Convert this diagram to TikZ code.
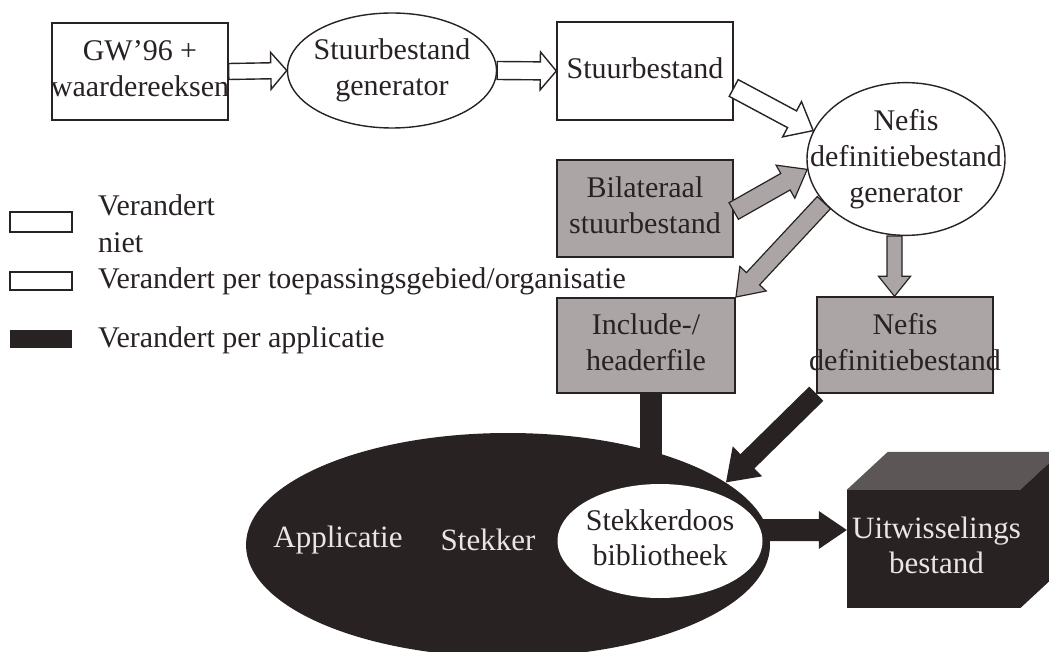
\documentclass[tikz,border=0pt]{standalone}
\usepackage{fontspec}
\setmainfont{Liberation Serif}
\usetikzlibrary{shapes.geometric,calc}
\definecolor{ink}{RGB}{40,34,35}
\definecolor{midgray}{RGB}{172,165,165}
\definecolor{topgray}{RGB}{92,86,87}
\definecolor{paleink}{RGB}{234,230,230}
\newcommand\tx[1]{\makebox[0pt]{\begin{tabular}{@{}c@{}}#1\end{tabular}}}
\newcommand\blockarrow[6]{%
  \path[#1] let \p1=($(#3)-(#2)$), \n1={atan2(\y1,\x1)}, \n2={veclen(\x1,\y1)} in
    [shift={(#2)}, rotate=\n1]
    (0pt,-#4pt) -- ({(\n2-#6)*1pt},-#4pt) -- ({(\n2-#6)*1pt},-#5pt) -- ({\n2*1pt},0pt)
    -- ({(\n2-#6)*1pt},#5pt) -- ({(\n2-#6)*1pt},#4pt) -- (0pt,#4pt) -- cycle;}
\tikzset{
  lbl/.style={font=\fontsize{30}{36}\selectfont, text=ink},
  box/.style={rectangle, draw=ink, line width=1.4pt, fill=white, inner sep=0pt, lbl},
  graybox/.style={box, fill=midgray},
  oval/.style={ellipse, draw=ink, line width=1.4pt, fill=white, inner sep=0pt, lbl},
  legtext/.style={font=\fontsize{30}{33}\selectfont, text=ink, inner sep=0pt, align=left},
  hollow/.style={draw=ink, fill=white, line width=1.4pt, line join=miter},
  grayarr/.style={draw=ink, fill=midgray, line width=1.2pt},
  blackarr/.style={fill=ink},
  paletext/.style={font=\fontsize{31}{35}\selectfont, text=paleink, inner sep=0pt}
}
\begin{document}
\begin{tikzpicture}[x=1pt, y=-1pt]
\useasboundingbox (0,0) rectangle (1049,652);
\clip (0,0) rectangle (1049,652);
\fill[white] (0,0) rectangle (1049,652);

% top row
\node[box, minimum width=176pt, minimum height=97pt] (gw) at (140,71.5) {\tx{GW’96 +\\waardereeksen}};
\node[oval, minimum width=209pt, minimum height=115pt] (sgen) at (392,70.5) {\tx{Stuurbestand\\generator}};
\node[box, minimum width=176pt, minimum height=98pt] (sb) at (645,71) {\tx{Stuurbestand}};
\node[oval, minimum width=198pt, minimum height=118pt] (ngen) at (906,159) {\tx{Nefis\\definitiebestand\\generator}};

% gray boxes
\node[graybox, minimum width=176pt, minimum height=97pt] (bil) at (645,208.5) {\tx{Bilateraal\\stuurbestand}};
\node[graybox, minimum width=178pt, minimum height=95pt] (inc) at (646,345.5) {\tx{Include-/\\headerfile}};
\node[graybox, minimum width=176pt, minimum height=96pt] (nd) at (905,345) {\tx{Nefis\\definitiebestand}};

% legend
\node[box, minimum width=62pt, minimum height=20pt] (leg1) at (41,222) {};
\node[box, minimum width=62pt, minimum height=18pt] (leg2) at (41,281) {};
\node[rectangle, fill=ink, inner sep=0pt, minimum width=62pt, minimum height=18pt] (leg3) at (41,339) {};
\node[legtext, anchor=west] (l1) at (98,224) {Verandert\\[4pt]niet};
\node[legtext, anchor=west] (l2) at (98,281) {Verandert per toepassingsgebied/organisatie};
\node[legtext, anchor=west] (l3) at (98,340) {Verandert per applicatie};

% application ellipse
\node[ellipse, fill=ink, inner sep=0pt, minimum width=524pt, minimum height=224pt] (app) at (508,545) {};
\draw[line width=22pt, ink] ([xshift=5pt]inc.south) -- ([xshift=5pt,yshift=-75pt]inc.south);
\node[paletext] (apptxt) at (338,540) {Applicatie};
\node[paletext] (stekker) at (488,540) {Stekker};
\node[oval, draw=none, minimum width=205pt, minimum height=114pt] (stek) at (660,541) {\tx{Stekkerdoos\\[-1pt]bibliotheek}};

% cube
\node[rectangle, fill=ink, inner sep=0pt, minimum width=173pt, minimum height=118pt] (cube) at (933.5,549) {};
\fill[topgray] (cube.north west) -- ([shift={(41,-38)}]cube.north west) -- ([shift={(41,-38)}]cube.north east) -- (cube.north east) -- cycle;
\fill[ink] (cube.north east) -- ([shift={(41,-38)}]cube.north east) -- ([shift={(41,-38)}]cube.south east) -- (cube.south east) -- cycle;
\node[paletext] (cubetxt) at ([xshift=3pt]cube.center) {\tx{Uitwisselings\\bestand}};

% arrows
\blockarrow{hollow}{gw.east}{sgen.west}{8}{18.5}{16}
\blockarrow{hollow}{sgen.east}{sb.west}{9}{19}{16}
\blockarrow{hollow}{[yshift=-17pt]sb.east}{ngen.163}{9.5}{20}{24}
\blockarrow{grayarr}{[yshift=-2.5pt]bil.east}{ngen.186}{9.5}{19}{25}
\blockarrow{grayarr}{ngen.208}{inc.north east}{9}{18}{25}
\blockarrow{grayarr}{[xshift=-11.5pt]ngen.south}{[xshift=-11.5pt]ngen.south |- nd.north}{7.5}{16}{20}
\blockarrow{blackarr}{nd.south west}{app.16}{10}{21}{30}
\blockarrow{blackarr}{[yshift=11pt]stek.east}{[yshift=11pt]stek.east -| cube.west}{11}{19}{28}
\end{tikzpicture}
\end{document}
